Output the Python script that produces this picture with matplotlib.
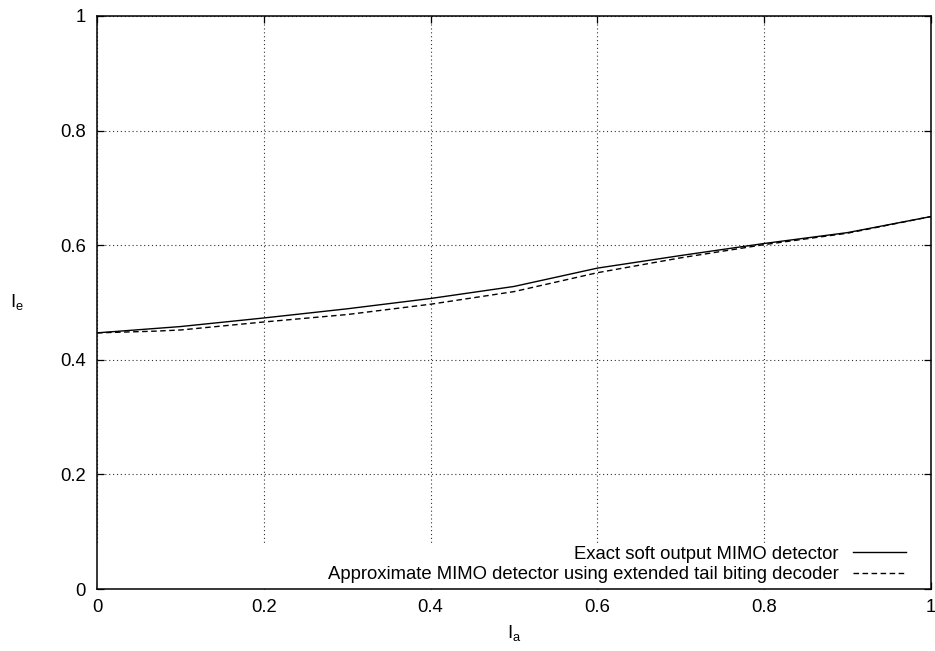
import matplotlib
matplotlib.use("Agg")
import matplotlib.pyplot as plt
from matplotlib.patches import Rectangle

plt.rcParams['font.family'] = ['Liberation Sans', 'DejaVu Sans']
plt.rcParams['mathtext.default'] = 'regular'

# Data
x_exact = [0.0, 0.1, 0.2, 0.3, 0.4, 0.5, 0.6, 0.7, 0.8, 0.9, 1.0]
y_exact = [0.447, 0.458, 0.473, 0.489, 0.507, 0.528, 0.560, 0.582, 0.603, 0.622, 0.650]
x_approx = [0.0, 0.07, 0.1, 0.2, 0.3, 0.4, 0.5, 0.6, 0.7, 0.8, 0.9, 1.0]
y_approx = [0.447, 0.450, 0.452, 0.466, 0.479, 0.497, 0.519, 0.552, 0.578, 0.601, 0.621, 0.650]
label_exact = "Exact soft output MIMO detector"
label_approx = "Approximate MIMO detector using extended tail biting decoder"
ticks = [0, 0.2, 0.4, 0.6, 0.8, 1]
tick_labels = ["0", "0.2", "0.4", "0.6", "0.8", "1"]

FS = 13.3

fig = plt.figure(figsize=(9.35, 6.51), dpi=100)
ax = fig.add_axes([97/935, 62/651, 834/935, 573/651])

ax.set_xlim(0, 1)
ax.set_ylim(0, 1)
ax.set_xticks(ticks)
ax.set_xticklabels(tick_labels)
ax.set_yticks(ticks)
ax.set_yticklabels(tick_labels)

ax.grid(True, linestyle=(0, (1, 2.5)), color='#333333', linewidth=0.8, zorder=1)
ax.set_axisbelow(True)
# opaque key background hides grid at bottom
ax.add_patch(Rectangle((0, 0), 1, 0.077, transform=ax.transAxes,
                       facecolor='white', edgecolor='none', zorder=1.5))

ax.plot(x_exact, y_exact, color='black', linewidth=1.0, linestyle='-',
        label=label_exact, zorder=3)
ax.plot(x_approx, y_approx, color='black', linewidth=1.0, linestyle=(0, (4, 2.5)),
        label=label_approx, zorder=3)

ax.tick_params(direction='in', length=5, width=0.9, top=True, right=True,
               labelsize=FS, colors='black')
ax.tick_params(axis='y', pad=8)
ax.tick_params(axis='x', pad=7)
for s in ax.spines.values():
    s.set_linewidth(1.1)

ax.set_xlabel("I$_a$", fontsize=FS, labelpad=5)
ax.set_ylabel("I$_e$", fontsize=FS, rotation=0, va='center', ha='center')
ax.yaxis.set_label_coords(-0.096, 0.5)

leg = ax.legend(loc='lower right', frameon=False, markerfirst=False,
                fontsize=FS, handlelength=2.9, handletextpad=0.75,
                labelspacing=0.2, borderaxespad=0.0, borderpad=0.3,
                bbox_to_anchor=(0.977, 0.0))
for t in leg.get_texts():
    t.set_ha('right')

fig.savefig("out.png", dpi=100)
